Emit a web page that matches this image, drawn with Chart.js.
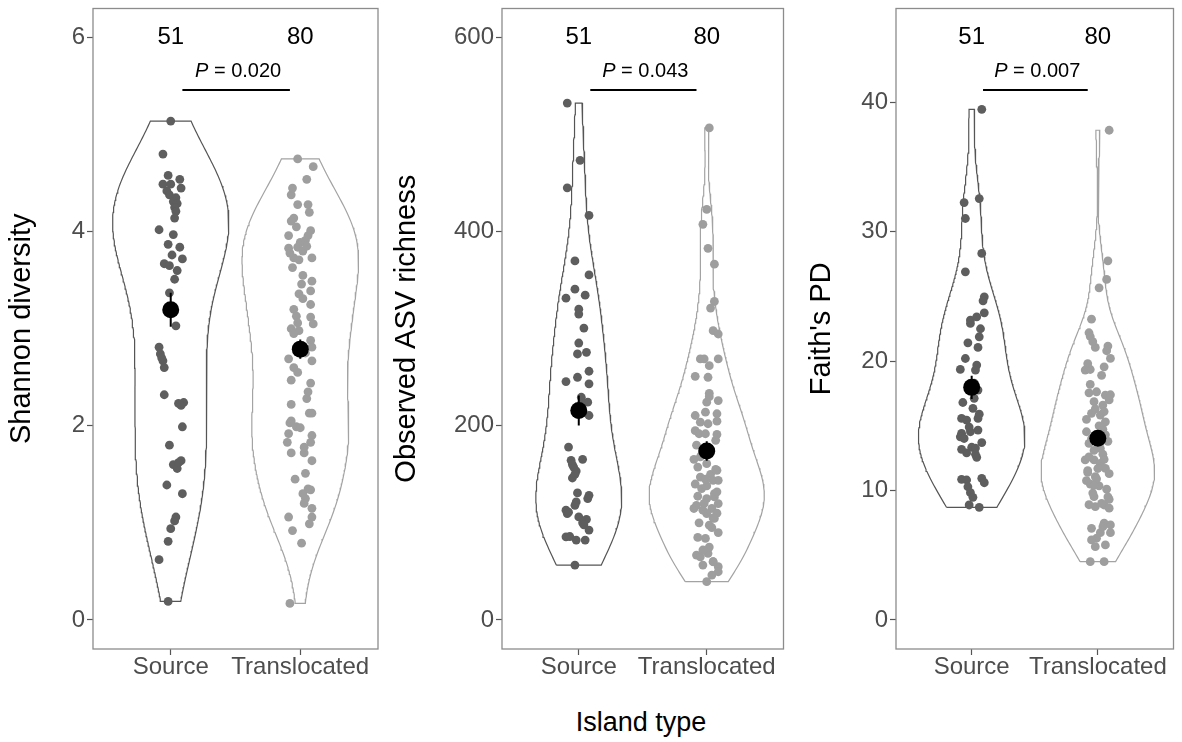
<!DOCTYPE html>
<html>
<head>
<meta charset="utf-8">
<script src="https://cdn.jsdelivr.net/npm/chart.js@4.4.1/dist/chart.umd.min.js"></script>
<style>
  body { margin: 0; background: #fff; width: 1182px; height: 742px; position: relative; overflow: hidden; font-family: "Liberation Sans", Arial, sans-serif; }
  canvas { position: absolute; top: 0; }
  #xtitle { position: absolute; left: 0; top: 707px; width: 1282px; text-align: center; font-size: 27px; line-height: 30px; color: #000; }
</style>
</head>
<body>
<canvas id="c1" width="392" height="700" style="left:0px"></canvas>
<canvas id="c2" width="400" height="700" style="left:392px"></canvas>
<canvas id="c3" width="390" height="700" style="left:792px"></canvas>
<div id="xtitle">Island type</div>
<script>
const categories = ['Source', 'Translocated'];
const yTitles = ['Shannon diversity', 'Observed ASV richness', "Faith's PD"];
const yTicks = [[0, 2, 4, 6], [0, 200, 400, 600], [0, 10, 20, 30, 40]];
const yLimits = [[0, 6], [0, 600], [0, 45]];
const pValues = ['0.020', '0.043', '0.007'];
const groupMeans = [[3.195, 2.79], [215.8, 174], [17.97, 14.03]];
const groupSE = [[0.175, 0.1], [15.5, 10], [0.9, 0.6]];

// each point: [value, horizontal jitter from the category centre]
const shannonSource = [
  [5.14, 0.00], [4.80, -0.06], [4.58, -0.02], [4.54, 0.07], [4.49, -0.06], [4.49, 0.00], [4.45, 0.08],
  [4.42, -0.03], [4.38, -0.01], [4.35, 0.04], [4.31, 0.02], [4.29, 0.05], [4.25, 0.03], [4.21, 0.04],
  [4.14, 0.03], [4.02, -0.09], [3.97, 0.02], [3.87, -0.02], [3.84, 0.07], [3.76, 0.01], [3.72, 0.09],
  [3.67, -0.05], [3.65, -0.01], [3.60, 0.05], [3.51, 0.03], [3.37, -0.01], [3.03, 0.04], [2.81, -0.09],
  [2.74, -0.08], [2.67, -0.06], [2.60, -0.05], [2.32, -0.05], [2.23, 0.06], [2.24, 0.10], [1.99, 0.09],
  [1.80, -0.01], [1.60, 0.02], [1.64, 0.08], [1.56, 0.05], [1.39, -0.03], [1.30, 0.09], [1.06, 0.04],
  [0.94, 0.00], [0.81, -0.02], [0.62, -0.09], [0.19, -0.02], [2.70, -0.07], [1.62, 0.06], [2.21, 0.08],
  [1.02, 0.03], [3.20, 0.00]
];
const shannonTrans = [
  [4.75, -0.02], [4.67, 0.10], [4.54, 0.05], [4.38, -0.07], [4.28, -0.02], [4.28, 0.06], [4.14, -0.05],
  [4.11, -0.07], [4.01, 0.08], [3.96, -0.09], [3.96, 0.06], [3.91, 0.04], [3.89, 0.00], [3.83, -0.09],
  [3.84, -0.02], [3.80, 0.02], [3.73, -0.05], [3.73, 0.09], [3.71, -0.01], [3.63, -0.06], [3.46, 0.01],
  [3.49, 0.09], [3.39, 0.08], [3.36, -0.01], [3.31, 0.02], [3.20, -0.05], [3.13, -0.03], [3.12, 0.08],
  [3.06, -0.02], [3.05, 0.10], [3.00, -0.07], [2.98, -0.01], [2.88, 0.08], [2.81, 0.09], [2.69, -0.09],
  [2.60, -0.05], [2.67, 0.09], [2.47, -0.07], [2.44, 0.08], [2.28, 0.05], [2.22, -0.07], [2.13, 0.07],
  [2.13, 0.09], [2.03, -0.08], [1.99, -0.03], [1.98, 0.00], [1.92, -0.09], [1.90, 0.09], [1.83, 0.08],
  [1.83, -0.10], [1.72, -0.07], [1.72, 0.03], [1.64, 0.09], [1.51, 0.04], [1.35, 0.06], [1.34, 0.08],
  [1.30, 0.02], [1.25, 0.04], [1.20, 0.03], [1.06, -0.09], [1.06, 0.09], [0.99, 0.07], [0.92, -0.06],
  [0.79, 0.01], [0.17, -0.08], [4.45, -0.06], [4.20, 0.07], [4.05, -0.03], [3.85, 0.05], [3.78, -0.08],
  [3.55, 0.02], [3.25, 0.08], [2.95, -0.05], [2.75, 0.04], [2.55, -0.02], [2.35, 0.06], [2.05, -0.07],
  [1.78, 0.03], [1.45, -0.04], [1.15, 0.09]
];
const richnessSource = [
  [532.5, -0.09], [473.6, 0.01], [445.2, -0.09], [416.8, 0.08], [369.9, -0.03], [355.5, 0.08], [340.8, -0.03],
  [331.5, -0.10], [334.6, 0.05], [320.2, 0.00], [315.1, 0.00], [300.7, 0.04], [285.3, 0.00], [274.0, -0.01],
  [275.7, 0.06], [245.6, -0.10], [250.0, -0.01], [256.2, 0.08], [243.2, 0.08], [229.4, 0.02], [224.3, 0.07],
  [210.6, 0.08], [178.1, -0.08], [164.4, -0.06], [165.4, 0.03], [157.5, -0.04], [153.4, -0.02], [146.2, -0.05],
  [130.8, -0.01], [128.4, 0.08], [121.5, -0.02], [118.1, -0.03], [113.0, -0.10], [109.6, -0.09], [106.1, 0.00],
  [103.5, 0.06], [100.0, 0.03], [92.5, 0.08], [85.6, -0.10], [85.9, -0.07], [82.2, -0.02], [82.2, 0.05],
  [56.5, -0.03], [218, 0.00], [212, -0.01], [222, 0.02], [160, -0.05], [150, -0.03], [125, 0.07],
  [111, -0.08], [98, 0.04]
];
const richnessTrans = [
  [506.9, 0.02], [423.0, 0.00], [407.6, -0.03], [382.9, 0.01], [366.5, 0.06], [328.1, 0.06], [321.3, 0.03],
  [298.0, 0.05], [294.6, 0.09], [268.9, -0.05], [268.9, -0.02], [262.0, 0.02], [268.9, 0.09], [251.0, -0.09],
  [250.0, 0.01], [233.5, 0.02], [226.0, 0.09], [224.3, 0.00], [210.6, -0.09], [214.0, -0.01], [212.4, 0.08],
  [203.7, -0.05], [202.1, 0.01], [204.8, 0.08], [191.8, -0.06], [191.8, -0.01], [191.1, 0.08], [165.4, -0.10],
  [157.5, -0.07], [161.0, 0.00], [154.1, 0.08], [147.2, -0.05], [143.8, 0.05], [143.8, 0.09], [135.3, -0.04],
  [127.4, -0.07], [125.0, 0.00], [126.7, 0.06], [114.8, -0.10], [113.0, -0.03], [114.8, 0.04], [119.9, 0.09],
  [109.6, 0.00], [104.5, 0.06], [97.6, 0.02], [83.9, -0.01], [66.8, -0.08], [65.0, -0.05], [68.5, 0.01],
  [59.9, 0.05], [54.8, 0.09], [56.5, -0.03], [49.6, 0.09], [46.2, 0.04], [39.4, 0.00],
  [180, -0.08], [185, 0.07], [170, -0.04], [150, 0.03], [140, -0.09], [130, 0.06], [120, -0.02], [110, 0.08],
  [100, -0.06], [95, 0.04], [90, 0.09], [85, -0.07], [75, 0.02], [72, -0.03], [60, 0.05], [175, 0.03],
  [168, -0.05], [155, 0.07], [138, 0.00], [118, -0.08], [105, 0.05], [132, 0.08], [145, -0.01], [195, -0.09],
  [230, 0.02]
];
const faithSource = [
  [39.46, 0.08], [32.25, -0.06], [32.56, 0.06], [31.02, -0.05], [28.32, 0.08], [26.90, -0.05], [24.97, 0.10],
  [24.66, 0.09], [23.73, 0.10], [23.17, -0.01], [22.91, -0.01], [23.42, 0.04], [21.41, -0.03], [21.88, 0.06],
  [21.06, 0.05], [19.36, -0.09], [19.69, 0.04], [19.31, 0.03], [17.76, 0.05], [17.12, 0.02], [16.35, 0.01],
  [15.57, -0.08], [15.44, -0.04], [15.57, 0.05], [14.67, 0.05], [14.42, -0.08], [14.15, -0.09], [14.02, -0.06],
  [14.54, -0.01], [13.18, -0.08], [13.34, 0.00], [13.28, 0.03], [12.56, 0.04], [10.86, -0.08], [10.81, -0.04],
  [10.94, 0.08], [10.60, 0.10], [10.29, -0.03], [9.83, -0.01], [9.47, 0.01], [8.88, -0.02], [8.70, 0.06],
  [22.5, 0.07], [20.2, -0.05], [18.3, 0.02], [16.8, -0.07], [15.9, 0.06], [14.9, -0.02], [13.7, 0.08],
  [12.9, -0.04], [12.8, 0.03]
];
const faithTrans = [
  [37.84, 0.09], [27.75, 0.08], [26.31, 0.07], [25.66, 0.01], [23.24, -0.05], [22.19, -0.07], [21.90, -0.06],
  [21.06, -0.02], [21.16, 0.08], [20.21, 0.10], [19.56, 0.05], [19.31, -0.10], [19.35, -0.06], [17.55, -0.07],
  [17.63, -0.01], [17.37, 0.06], [17.40, 0.10], [16.86, -0.03], [16.60, 0.04], [15.96, -0.05], [15.83, 0.02],
  [15.31, 0.06], [14.73, 0.04], [14.54, -0.09], [13.64, -0.07], [13.26, 0.02], [12.36, -0.10], [12.36, -0.03],
  [11.89, 0.02], [11.53, -0.08], [11.71, 0.06], [11.07, -0.02], [10.76, -0.09], [10.35, 0.01], [9.52, -0.03],
  [9.32, 0.09], [8.75, -0.02], [8.88, 0.05], [8.63, 0.09], [7.47, 0.05], [7.34, 0.10], [7.08, -0.05],
  [6.74, 0.02], [6.74, 0.10], [6.31, -0.01], [6.18, -0.05], [5.79, 0.06], [5.66, -0.02], [4.50, -0.06],
  [4.50, 0.05], [21.5, -0.04], [20.8, 0.07], [19.8, -0.08], [18.9, 0.03], [18.2, -0.06], [17.0, 0.09],
  [16.3, -0.02], [16.1, 0.05], [15.5, -0.09], [15.0, 0.01], [14.3, 0.06], [14.0, -0.05], [13.8, 0.08],
  [13.1, -0.03], [12.8, 0.04], [12.6, -0.07], [12.1, 0.02], [11.3, 0.09], [10.9, -0.01], [10.5, -0.06],
  [10.1, 0.07], [9.8, -0.04], [9.0, 0.03], [11.4, -0.08], [12.4, 0.05], [11.7, 0.00], [10.4, -0.03],
  [9.5, 0.08], [8.9, -0.07], [7.2, 0.04]
];

const FONT = '"Liberation Sans", Arial, sans-serif';
const pointColors = ['#5e5e5e', '#9e9e9e'];
const outlineColors = ['#555555', '#a3a3a3'];

// canvas geometry for each panel
const layouts = [
  { id: 'c1', axisWidth: 93, padRight: 14, titlePad: 7 },
  { id: 'c2', axisWidth: 110, padRight: 6, titlePad: 0 },
  { id: 'c3', axisWidth: 104, padRight: 3, titlePad: 15 }
];

function quantile(sorted, p) {
  const h = (sorted.length - 1) * p;
  const lo = Math.floor(h);
  const hi = Math.min(lo + 1, sorted.length - 1);
  return sorted[lo] + (h - lo) * (sorted[hi] - sorted[lo]);
}

// R's bw.nrd0
function bandwidth(v) {
  const n = v.length;
  const mean = v.reduce((a, b) => a + b, 0) / n;
  const sd = Math.sqrt(v.reduce((a, b) => a + (b - mean) ** 2, 0) / (n - 1));
  const s = [...v].sort((a, b) => a - b);
  let lo = Math.min(sd, (quantile(s, 0.75) - quantile(s, 0.25)) / 1.34);
  if (!lo) lo = sd || 1;
  return 0.9 * lo * Math.pow(n, -0.2);
}

// gaussian kde, trimmed to the data range like geom_violin(trim = TRUE)
function density(v, steps) {
  const bw = bandwidth(v);
  const lo = Math.min(...v), hi = Math.max(...v);
  const k = 1 / (v.length * bw * Math.sqrt(2 * Math.PI));
  const out = [];
  for (let i = 0; i <= steps; i++) {
    const y = lo + (hi - lo) * i / steps;
    let d = 0;
    v.forEach(x => { const z = (y - x) / bw; d += Math.exp(-0.5 * z * z); });
    out.push({ y, d: d * k });
  }
  return out;
}

const frameAndLabels = {
  id: 'frameAndLabels',
  afterDatasetsDraw(chart, args, opts) {
    const { ctx, chartArea: a, scales: { x, y } } = chart;
    ctx.save();
    ctx.strokeStyle = '#8c8c8c';
    ctx.lineWidth = 1.3;
    ctx.strokeRect(a.left, a.top, a.right - a.left, a.bottom - a.top);

    ctx.fillStyle = '#000';
    ctx.textBaseline = 'middle';
    ctx.textAlign = 'center';
    ctx.font = '24px ' + FONT;
    opts.counts.forEach((n, i) => {
      ctx.fillText(String(n), x.getPixelForValue(i + 1), y.getPixelForValue(opts.top));
    });

    const py = y.getPixelForValue(opts.top * 0.942);
    const italic = 'italic 20px ' + FONT, plain = '20px ' + FONT;
    const rest = ' = ' + opts.p;
    ctx.font = italic;
    const w1 = ctx.measureText('P').width;
    ctx.font = plain;
    const w2 = ctx.measureText(rest).width;
    const sx = x.getPixelForValue(1.52) - (w1 + w2) / 2;
    ctx.textAlign = 'left';
    ctx.font = italic;
    ctx.fillText('P', sx, py);
    ctx.font = plain;
    ctx.fillText(rest, sx + w1, py);

    const by = y.getPixelForValue(opts.top * 0.91);
    ctx.strokeStyle = '#000';
    ctx.lineWidth = 2;
    ctx.beginPath();
    ctx.moveTo(x.getPixelForValue(1.09), by);
    ctx.lineTo(x.getPixelForValue(1.92), by);
    ctx.stroke();
    ctx.restore();
  }
};

function makePanel(i, groups) {
  const lay = layouts[i];
  const dens = groups.map(g => density(g.map(p => p[0]), 200));
  const maxD = Math.max(...dens.map(ds => Math.max(...ds.map(p => p.d))));
  const datasets = [];

  dens.forEach((ds, g) => {
    const c = g + 1;
    const left = ds.map(p => ({ x: c - 0.45 * p.d / maxD, y: p.y }));
    const right = ds.slice().reverse().map(p => ({ x: c + 0.45 * p.d / maxD, y: p.y }));
    datasets.push({
      data: [...left, ...right, left[0]], showLine: true, fill: false,
      borderColor: outlineColors[g], borderWidth: 1.2, pointRadius: 0, order: 5
    });
  });

  groups.forEach((g, gi) => {
    datasets.push({
      data: g.map(p => ({ x: gi + 1 + p[1], y: p[0] })),
      pointRadius: 4.4, pointBackgroundColor: pointColors[gi], pointBorderWidth: 0, order: 4
    });
  });

  groupMeans[i].forEach((m, gi) => {
    const se = groupSE[i][gi];
    datasets.push({
      data: [{ x: gi + 1, y: m - se }, { x: gi + 1, y: m + se }], showLine: true,
      borderColor: '#000', borderWidth: 2, pointRadius: 0, order: 2
    });
  });

  datasets.push({
    data: groupMeans[i].map((m, gi) => ({ x: gi + 1, y: m })),
    pointRadius: 8.5, pointBackgroundColor: '#000', pointBorderWidth: 0, order: 1
  });

  const [lo, hi] = yLimits[i];
  const pad = (hi - lo) * 0.05;

  new Chart(document.getElementById(lay.id), {
    type: 'scatter',
    data: { datasets },
    plugins: [frameAndLabels],
    options: {
      responsive: false,
      animation: false,
      events: [],
      layout: { padding: { top: 8, right: lay.padRight, bottom: 0, left: 0 } },
      plugins: {
        legend: { display: false },
        tooltip: { enabled: false },
        frameAndLabels: { counts: groups.map(g => g.length), p: pValues[i], top: hi }
      },
      scales: {
        x: {
          type: 'linear', min: 0.4, max: 2.6,
          afterBuildTicks: s => { s.ticks = categories.map((c, k) => ({ value: k + 1 })); },
          afterFit: s => { s.height = 51; s.paddingLeft = 0; s.paddingRight = 0; },
          ticks: {
            callback: v => categories[v - 1], color: '#4d4d4d', padding: 0,
            font: { family: FONT, size: 24, lineHeight: 1 }, maxRotation: 0, autoSkip: false
          },
          grid: { drawOnChartArea: false, drawTicks: true, tickLength: 6, tickColor: '#555', tickWidth: 1.2 },
          border: { display: false }
        },
        y: {
          type: 'linear', min: lo - pad, max: hi + pad,
          afterBuildTicks: s => { s.ticks = yTicks[i].map(v => ({ value: v })); },
          afterFit: s => { s.width = lay.axisWidth; s.paddingTop = 0; s.paddingBottom = 0; },
          ticks: {
            callback: v => String(v), color: '#4d4d4d', padding: 2,
            font: { family: FONT, size: 24, lineHeight: 1 }, autoSkip: false
          },
          grid: { drawOnChartArea: false, drawTicks: true, tickLength: 6, tickColor: '#555', tickWidth: 1.2 },
          border: { display: false },
          title: {
            display: true, text: yTitles[i], color: '#000',
            font: { family: FONT, size: 29, lineHeight: 1 }, padding: { top: lay.titlePad, bottom: 0 }
          }
        }
      }
    }
  });
}

makePanel(0, [shannonSource, shannonTrans]);
makePanel(1, [richnessSource, richnessTrans]);
makePanel(2, [faithSource, faithTrans]);
</script>
</body>
</html>
